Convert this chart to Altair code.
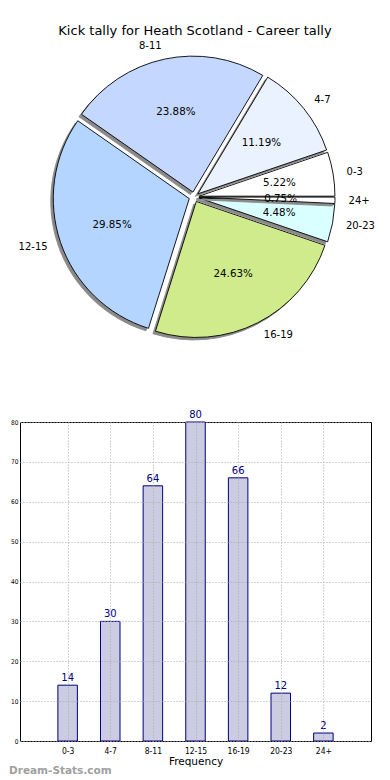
import altair as alt
import pandas as pd

# ---- data ----
cats = ["0-3", "4-7", "8-11", "12-15", "16-19", "20-23", "24+"]
counts = [14, 30, 64, 80, 66, 12, 2]
pie_colors = ["#ffffff", "#eaf1ff", "#c4d8ff", "#b4d5ff", "#d0eb8b", "#d9ffff", "#ffffff"]
y_ticks = [0, 10, 20, 30, 40, 50, 60, 70, 80]
title_text = "Kick tally for Heath Scotland - Career tally"
x_title = "Frequency"
watermark = "Dream-Stats.com"

df = pd.DataFrame({"cat": cats, "count": counts, "idx": list(range(len(cats)))})

# ---- pie geometry (style) ----
CX, CY, R, E = 174, 188, 136, 5
SHX, SHY = -2.5, 2.5
FONT = "DejaVu Sans"
NARROW = "DejaVu Sans Condensed, Liberation Sans Narrow, DejaVu Sans"

base = (
    alt.Chart(df)
    .transform_window(cum="sum(count)", sort=[alt.SortField("idx")])
    .transform_joinaggregate(tot="sum(count)")
    .transform_calculate(
        a="2*PI*(datum.cum - datum.count)/datum.tot",
        b="2*PI*datum.cum/datum.tot",
    )
    .transform_calculate(
        mid="(datum.a + datum.b)/2",
        t0="PI/2 - datum.b",
        t1="PI/2 - datum.a",
    )
    .transform_calculate(
        cx=f"{CX} + {E}*cos(datum.mid)",
        cy=f"{CY} - {E}*sin(datum.mid)",
    )
)

wedges = (
    base.transform_calculate(s0="0", s1="1")
    .transform_fold(["s0", "s1"], as_=["kind", "k"])
    .transform_calculate(
        px=f"datum.cx + (datum.k == 0 ? {SHX} : 0)",
        py=f"datum.cy + (datum.k == 0 ? {SHY} : 0)",
        ord="datum.idx*2 + datum.k",
    )
    .mark_arc(radius=R, strokeWidth=0.9)
    .encode(
        x=alt.X("px:Q", scale=None),
        y=alt.Y("py:Q", scale=None),
        theta=alt.Theta("t0:Q", scale=None, stack=False),
        theta2="t1:Q",
        fill=alt.condition(
            "datum.k == 0",
            alt.value("#8a8a8a"),
            alt.Color("cat:N", scale=alt.Scale(domain=cats, range=pie_colors), legend=None),
        ),
        stroke=alt.condition("datum.k == 0", alt.value("#8a8a8a"), alt.value("black")),
        order=alt.Order("ord:Q"),
    )
)

pct = (
    base.transform_calculate(
        tx=f"datum.cx + {0.6 * R}*cos(datum.mid)",
        ty=f"datum.cy - {0.6 * R}*sin(datum.mid)",
        lab="format(datum.count/datum.tot*100, '.2f') + '%'",
    )
    .mark_text(font=FONT, fontSize=10.3, align="center", baseline="middle", color="black")
    .encode(x=alt.X("tx:Q", scale=None), y=alt.Y("ty:Q", scale=None), text="lab:N")
)

lab_base = base.transform_calculate(
    lx=f"datum.cx + {1.1 * R}*cos(datum.mid)",
    ly=f"datum.cy - {1.1 * R}*sin(datum.mid)",
    side="cos(datum.mid) >= 0 ? 1 : 0",
)
lab_r = (
    lab_base.transform_filter("datum.side == 1")
    .mark_text(font=FONT, fontSize=10, align="left", baseline="middle", color="black")
    .encode(x=alt.X("lx:Q", scale=None), y=alt.Y("ly:Q", scale=None), text="cat:N")
)
lab_l = (
    lab_base.transform_filter("datum.side == 0")
    .mark_text(font=FONT, fontSize=10, align="right", baseline="middle", color="black")
    .encode(x=alt.X("lx:Q", scale=None), y=alt.Y("ly:Q", scale=None), text="cat:N")
)

ttl = (
    alt.Chart(pd.DataFrame({"t": [title_text]}))
    .mark_text(font=FONT, fontSize=13, align="center", baseline="middle", color="black")
    .encode(text="t:N", x=alt.value(175), y=alt.value(22))
)

pie = alt.layer(wedges, pct, lab_r, lab_l, ttl).properties(
    width=351, height=360, view=alt.ViewBackground(stroke="transparent")
)

# ---- bar chart ----
lab_expr = "[" + ",".join(f"'{c}'" for c in cats) + "][datum.value]"
grid_kw = dict(grid=True, gridDash=[1, 2], gridColor="#a8a8a8", gridWidth=1, ticks=False,
               tickSize=0, domain=False, zindex=1, labelOverlap=False)

x_enc = alt.X(
    "idx:Q",
    scale=alt.Scale(domain=[-1, 7], nice=False, zero=False),
    axis=alt.Axis(
        values=list(range(len(cats))), labelExpr=lab_expr, title=x_title,
        labelFont=NARROW, labelFontSize=8.5, labelColor="black", labelPadding=5,
        titleFont=FONT, titleFontSize=10.5, titleFontWeight="normal", titleColor="black",
        titlePadding=2, **grid_kw,
    ),
)
y_enc = alt.Y(
    "count:Q",
    scale=alt.Scale(domain=[0, 80], nice=False),
    axis=alt.Axis(
        values=y_ticks, title=None, labelFont=NARROW, labelFontSize=6.5,
        labelColor="black", labelPadding=2, **grid_kw,
    ),
)

bars = alt.Chart(df).mark_bar(size=19.5, fill="#cbcbe1", stroke="#000080", strokeWidth=1).encode(
    x=x_enc, y=y_enc
)

vals = alt.Chart(df).mark_text(
    font=FONT, color="#000080", fontSize=10, dy=-4, baseline="alphabetic", align="center"
).encode(x=x_enc, y=y_enc, text="count:Q")

wm = (
    alt.Chart(pd.DataFrame({"t": [watermark]}))
    .mark_text(font=FONT, align="left", baseline="middle", fontSize=10.5, fontWeight="bold", color="#a0a0a0")
    .encode(text="t:N", x=alt.value(-11), y=alt.value(349))
)

barc = alt.layer(bars, vals, wm).properties(
    width=351, height=319, view=alt.ViewBackground(stroke="black", strokeWidth=1)
)

chart = (
    alt.vconcat(pie, barc, spacing=53, bounds="flush")
    .properties(padding={"left": 0, "top": 0, "right": 0, "bottom": 0})
    .configure(font=FONT)
)

chart.save("out.html", embed_options={"renderer": "svg", "actions": False})
